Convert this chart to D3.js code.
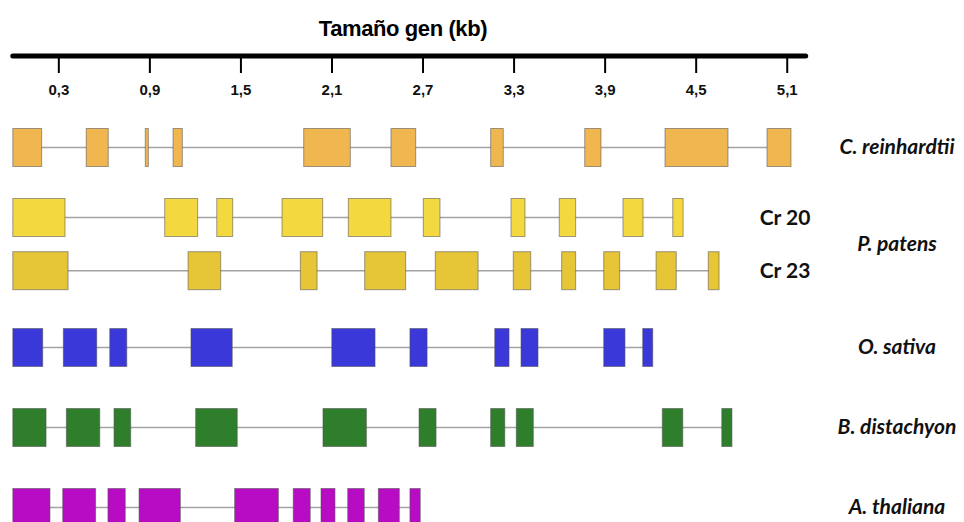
<!DOCTYPE html>
<html>
<head>
<meta charset="utf-8">
<script src="https://cdn.jsdelivr.net/npm/d3@7"></script>
<style>
  body { margin: 0; background: #fff; }
  svg { display: block; }
</style>
</head>
<body>
<svg id="chart" width="964" height="522"></svg>
<script>
// gene structure, exon start/end in kb
const tickValues = [0.3, 0.9, 1.5, 2.1, 2.7, 3.3, 3.9, 4.5, 5.1];

const creExons = [[0, 0.19], [0.484, 0.629], [0.873, 0.893], [1.056, 1.117], [1.917, 2.224],
  [2.492, 2.655], [3.149, 3.232], [3.769, 3.876], [4.298, 4.713], [4.97, 5.128]];
const ppCr20Exons = [[0, 0.344], [1.001, 1.218], [1.344, 1.449], [1.774, 2.042], [2.211, 2.492],
  [2.705, 2.815], [3.283, 3.375], [3.601, 3.709], [4.021, 4.153], [4.349, 4.417]];
const ppCr23Exons = [[0, 0.364], [1.155, 1.37], [1.895, 2.005], [2.319, 2.589], [2.784, 3.066],
  [3.298, 3.413], [3.617, 3.709], [3.894, 3.999], [4.239, 4.372], [4.583, 4.654]];
const osExons = [[0, 0.197], [0.333, 0.553], [0.639, 0.751], [1.174, 1.446], [2.102, 2.387],
  [2.617, 2.73], [3.176, 3.27], [3.349, 3.461], [3.894, 4.034], [4.151, 4.217]];
const bdExons = [[0, 0.219], [0.353, 0.573], [0.667, 0.777], [1.205, 1.479], [2.044, 2.33],
  [2.677, 2.789], [3.149, 3.242], [3.318, 3.43], [4.28, 4.415], [4.672, 4.739]];
const atExons = [[0, 0.245], [0.329, 0.546], [0.627, 0.741], [0.832, 1.104], [1.462, 1.75],
  [1.848, 1.96], [2.031, 2.123], [2.207, 2.316], [2.409, 2.547], [2.617, 2.685]];

const rowExons = [creExons, ppCr20Exons, ppCr23Exons, osExons, bdExons, atExons];
const rowLanes = [0, 0.875, 1.54, 2.5, 3.5, 4.5];
const rowColors = ["#f0b650", "#f4d83f", "#e6c537", "#3a38d8", "#2f7e2c", "#b80cc4"];

const speciesNames = ["C. reinhardtii", "P. patens", "O. sativa", "B. distachyon", "A. thaliana"];
const speciesLanes = [0, (0.875 + 1.54) / 2, 2.5, 3.5, 4.5];
const chrLabels = ["Cr 20", "Cr 23"];
const chrLanes = [0.875, 1.54];

const svg = d3.select("#chart");

const x = d3.scaleLinear().domain([0, 5.225]).range([12.8, 805.7]);
const y = d3.scaleLinear().domain([0, 4.5]).range([147.5, 507.5]);
const exonH = 38;

// title
svg.append("text")
  .attr("x", 403)
  .attr("y", 36)
  .attr("text-anchor", "middle")
  .attr("font-family", "Liberation Sans, Arial, sans-serif")
  .attr("font-weight", "bold")
  .attr("font-size", 22)
  .attr("letter-spacing", -0.4)
  .text("Tamaño gen (kb)");

// axis
const axis = d3.axisBottom(x)
  .tickValues(tickValues)
  .tickSize(17)
  .tickPadding(11)
  .tickFormat(d => d3.format(".1f")(d).replace(".", ","));

const gAxis = svg.append("g")
  .attr("transform", "translate(0,56)")
  .call(axis);

gAxis.select(".domain").remove();
gAxis.insert("line", ":first-child")
  .attr("x1", x(0))
  .attr("x2", x(5.225))
  .attr("stroke", "#000")
  .attr("stroke-width", 5)
  .attr("stroke-linecap", "round");
gAxis.selectAll(".tick line").attr("stroke", "#000").attr("stroke-width", 2);
gAxis.selectAll(".tick text")
  .attr("fill", "#111")
  .attr("font-family", "Liberation Sans, Arial, sans-serif")
  .attr("font-weight", "bold")
  .attr("font-size", 15);

// gene rows
const rows = rowExons.map((exons, i) => ({ exons, lane: rowLanes[i], color: rowColors[i] }));

const gRows = svg.append("g");
const row = gRows.selectAll("g.row")
  .data(rows)
  .join("g")
  .attr("class", "row");

row.append("line")
  .attr("x1", d => x(d.exons[0][0]))
  .attr("x2", d => x(d.exons[d.exons.length - 1][1]))
  .attr("y1", d => y(d.lane))
  .attr("y2", d => y(d.lane))
  .attr("stroke", "#a3a3a3")
  .attr("stroke-width", 1.6);

row.selectAll("rect")
  .data(d => d.exons.map(e => ({ e, lane: d.lane, color: d.color })))
  .join("rect")
  .attr("x", d => x(d.e[0]))
  .attr("width", d => x(d.e[1]) - x(d.e[0]))
  .attr("y", d => y(d.lane) - exonH / 2)
  .attr("height", exonH)
  .attr("fill", d => d.color)
  .attr("stroke", "rgba(80,80,80,0.55)")
  .attr("stroke-width", 1);

// labels
svg.append("g")
  .selectAll("text")
  .data(speciesNames)
  .join("text")
  .attr("x", 897)
  .attr("y", (d, i) => y(speciesLanes[i]) + 6.5)
  .attr("text-anchor", "middle")
  .attr("font-family", "Lato, 'Open Sans', sans-serif")
  .attr("font-weight", "bold")
  .attr("font-style", "italic")
  .attr("font-size", 21)
  .attr("fill", "#111")
  .text(d => d);

svg.append("g")
  .selectAll("text")
  .data(chrLabels)
  .join("text")
  .attr("x", 785)
  .attr("y", (d, i) => y(chrLanes[i]) + 7)
  .attr("text-anchor", "middle")
  .attr("font-family", "Lato, 'Open Sans', sans-serif")
  .attr("font-weight", "bold")
  .attr("font-size", 21)
  .attr("fill", "#111")
  .text(d => d);
</script>
</body>
</html>
